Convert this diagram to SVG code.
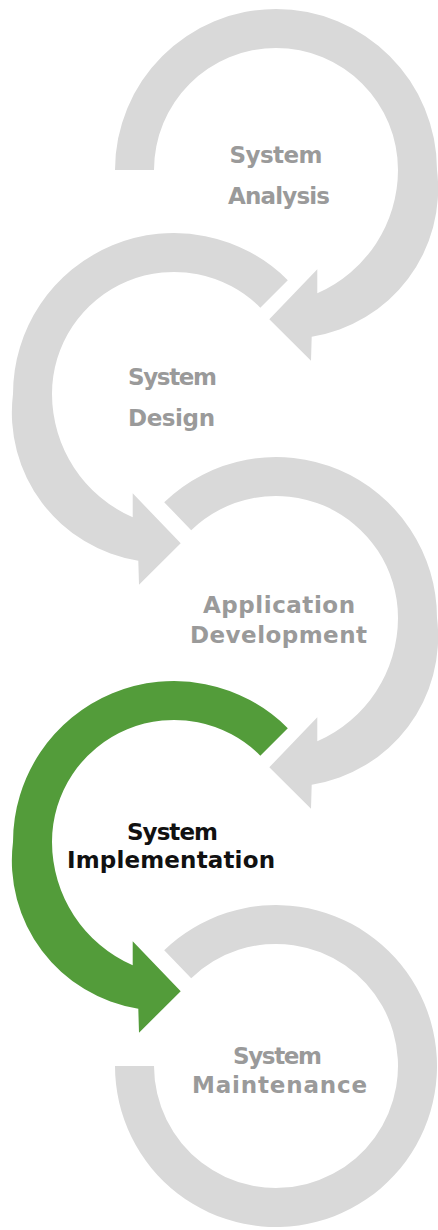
<svg xmlns="http://www.w3.org/2000/svg" width="438" height="1230" viewBox="0 0 438 1230">
<style>
.ring{fill:#d9d9d9;stroke:none}
.ring.active{fill:#539c3a}
.lbl{font-family:"DejaVu Sans","Liberation Sans",sans-serif;font-weight:bold;font-size:23px;fill:#9a9a9a;text-anchor:middle}
.lbl.active{fill:#111111}
</style>
<rect width="438" height="1230" fill="#ffffff"/>
<g id="node-analysis">
<path class="ring" d="M 115 170 A 161 161 0 0 1 437 170 A 150 150 0 0 1 311.7 336.7 L 311 360.7 L 269.3 319.3 L 317.3 269.3 L 317.3 293.3 A 135 135 0 0 0 398 170 A 122 122 0 0 0 154 170 Z"/>
<text class="lbl" x="276" y="163" textLength="93">System</text>
<text class="lbl" x="279" y="204" textLength="102">Analysis</text>
</g>
<g id="node-design">
<path class="ring" d="M 287.8 280.2 A 161 161 0 0 0 13 394 A 150 150 0 0 0 138.3 560.7 L 139 584.7 L 180.7 543.3 L 132.7 493.3 L 132.7 517.3 A 135 135 0 0 1 52 394 A 122 122 0 0 1 260.3 307.7 Z"/>
<text class="lbl" x="172.5" y="385" textLength="89">System</text>
<text class="lbl" x="171.5" y="426" textLength="87">Design</text>
</g>
<g id="node-development">
<path class="ring" d="M 164.2 502.2 A 161 161 0 0 1 437 618 A 150 150 0 0 1 311.7 784.7 L 311 808.7 L 269.3 767.3 L 317.3 717.3 L 317.3 741.3 A 135 135 0 0 0 398 618 A 122 122 0 0 0 191.2 530.2 Z"/>
<text class="lbl" x="279" y="613" textLength="152">Application</text>
<text class="lbl" x="278.5" y="643" textLength="177">Development</text>
</g>
<g id="node-implementation">
<path class="ring active" d="M 287.8 728.2 A 161 161 0 0 0 13 842 A 150 150 0 0 0 138.3 1008.7 L 139 1032.7 L 180.7 991.3 L 132.7 941.3 L 132.7 965.3 A 135 135 0 0 1 52 842 A 122 122 0 0 1 260.3 755.7 Z"/>
<text class="lbl active" x="172.5" y="840" textLength="91">System</text>
<text class="lbl active" x="171" y="868" textLength="208">Implementation</text>
</g>
<g id="node-maintenance">
<path class="ring" d="M 164.2 950.2 A 161 161 0 1 1 115 1066 L 154 1066 A 122 122 0 1 0 191.2 978.2 Z"/>
<text class="lbl" x="277.5" y="1064" textLength="89">System</text>
<text class="lbl" x="279.5" y="1093" textLength="175">Maintenance</text>
</g>
</svg>
